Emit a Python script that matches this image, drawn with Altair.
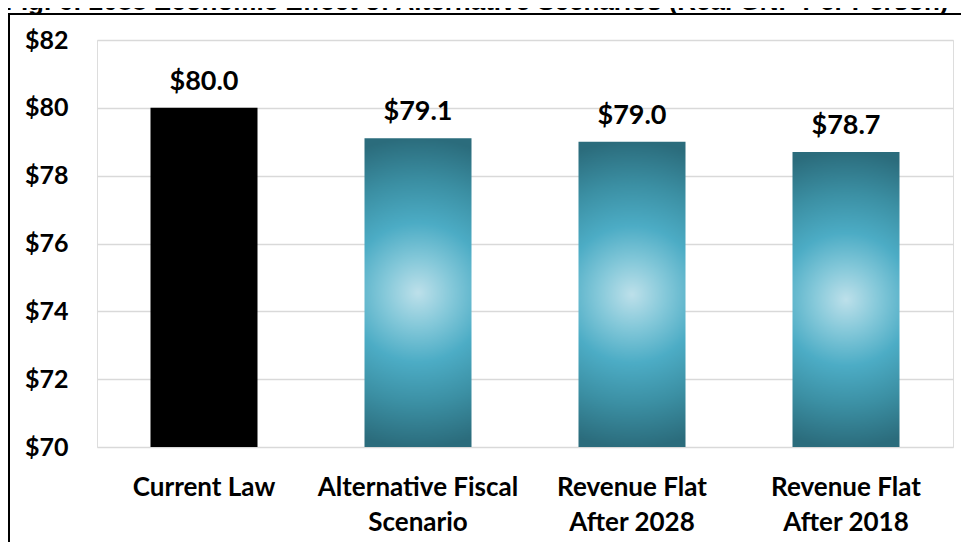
import altair as alt
import pandas as pd

# ---- data ----
categories = ["Current Law", "Alternative Fiscal|Scenario", "Revenue Flat|After 2028", "Revenue Flat|After 2018"]
values = [80.0, 79.1, 79.0, 78.7]
highlight = [True, False, False, False]
y_ticks = [70, 72, 74, 76, 78, 80, 82]
y_min, y_max = 70, 82
title_text = "Fig. 6: 2088 Economic Effect of Alternative Scenarios (Real GNP Per Person)"

df = pd.DataFrame({"cat": categories, "val": values, "hl": highlight})
df["base"] = y_min
df["lab"] = df["val"].map(lambda v: f"${v:.1f}")

W, H = 856, 407
FONT = "Lato"

x_enc = alt.X(
    "cat:N", sort=categories,
    scale=alt.Scale(paddingInner=0.5, paddingOuter=0.25),
    axis=alt.Axis(
        title=None, ticks=False, domain=False, labelAngle=0,
        labelExpr="split(datum.label, '|')",
        labelFont=FONT, labelFontWeight="bold", labelFontSize=26,
        labelColor="#000000", labelPadding=27, labelLineHeight=35,
        labelBaseline="top", labelLimit=0,
    ),
)
y_enc = alt.Y(
    "val:Q",
    scale=alt.Scale(domain=[y_min, y_max], nice=False, zero=False),
    axis=alt.Axis(
        title=None, values=y_ticks, ticks=False, domain=False,
        labelExpr="'$' + datum.value",
        labelFont=FONT, labelFontWeight="bold", labelFontSize=25,
        labelColor="#000000", labelPadding=29,
        grid=True, gridColor="#d9d9d9", gridWidth=1.5,
    ),
)

base = alt.Chart(df)

black_bars = base.transform_filter("datum.hl").mark_bar(color="#000000").encode(
    x=x_enc, y=y_enc, y2="base:Q"
)

grad = alt.Gradient(
    gradient="radial",
    x1=0.5, y1=0.5, r1=0,
    x2=0.5, y2=0.5, r2=0.5,
    stops=[
        alt.GradientStop(offset=0.0, color="#bde0ea"),
        alt.GradientStop(offset=0.22, color="#84c8d9"),
        alt.GradientStop(offset=0.45, color="#4cacc5"),
        alt.GradientStop(offset=0.72, color="#3b8fa3"),
        alt.GradientStop(offset=1.0, color="#2b6c7c"),
    ],
)
teal_bars = base.transform_filter("!datum.hl").mark_bar(color=grad).encode(
    x=x_enc, y=y_enc, y2="base:Q"
)

labels = base.mark_text(
    font=FONT, fontWeight="bold", fontSize=27, color="#000000",
    baseline="alphabetic", dy=-18,
).encode(x=x_enc, y=y_enc, text="lab:N")

# frame (decoration) and the top-cropped figure title
frame_top = alt.Chart(pd.DataFrame({"a": [0]})).mark_rule(color="#000000", strokeWidth=2).encode(
    x=alt.value(-89), x2=alt.value(W + 10), y=alt.value(-26)
)
frame_left = alt.Chart(pd.DataFrame({"a": [0]})).mark_rule(color="#000000", strokeWidth=2).encode(
    x=alt.value(-88), y=alt.value(-26), y2=alt.value(H + 100)
)
title = alt.Chart(pd.DataFrame({"t": [title_text]})).mark_text(
    font="Liberation Sans", fontWeight="bold", fontSize=26, color="#000000",
    align="left", baseline="alphabetic",
).encode(x=alt.value(-92), y=alt.value(-30), text="t:N")

chart = alt.layer(black_bars, teal_bars, labels, frame_top, frame_left, title).properties(
    width=W, height=H,
    autosize=alt.AutoSizeParams(type="none"),
    padding={"left": 89, "top": 32, "right": 8, "bottom": 95},
).configure_view(stroke=None).configure(background="#ffffff")

chart.save("out.html", embed_options={"renderer": "svg", "actions": False})
